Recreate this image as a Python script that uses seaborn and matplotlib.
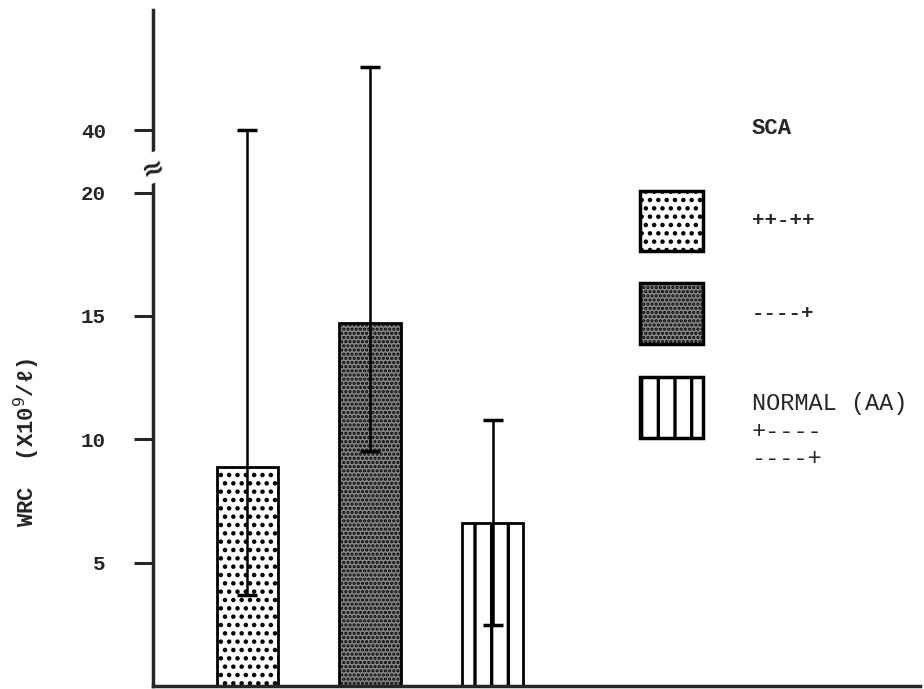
import matplotlib
matplotlib.use("Agg")
import matplotlib.pyplot as plt
from matplotlib.patches import Rectangle
import numpy as np
import pandas as pd
import seaborn as sns

# values (WBC, x10^9/l)
groups = ["++-++", "----+", "NORMAL (AA)"]
means = [8.9, 14.7, 6.6]
err_low = [3.7, 9.55, 2.5]      # lower end of error bar
err_high = [40.0, 60.5, 10.8]   # upper end of error bar
hatches = ["..", "....", "|"]
hatch_lw = [2.0, 1.6, 2.4]
faces = ["white", "#8a8a8a", "white"]
yticks = [5, 10, 15, 20, 40]
legend_labels = ["++-++", "----+", "NORMAL (AA)\n+----\n----+"]

df = pd.DataFrame({"group": groups, "wbc": means})

sns.set_style("white")
plt.rcParams["hatch.linewidth"] = 2.0
mono = ["Liberation Mono", "DejaVu Sans Mono"]

# broken axis above 20: squeeze the upper range
k = 0.126
def fwd(y):
    y = np.asarray(y, dtype=float)
    return np.where(y <= 20, y, 20 + (y - 20) * k)
def inv(v):
    v = np.asarray(v, dtype=float)
    return np.where(v <= 20, v, 20 + (v - 20) / k)

def style_patch(p, h, fc, lw):
    p.set_hatch(h)
    p.set_facecolor(fc)
    if hasattr(p, "set_hatch_linewidth"):
        p.set_hatch_linewidth(lw)

fig = plt.figure(figsize=(9.24, 6.89), dpi=100)
ax = fig.add_axes([0.1656, 0.004, 0.8304, 0.9815])

sns.barplot(data=df, x="group", y="wbc", ax=ax, width=0.5, errorbar=None,
            color="white", edgecolor="black", linewidth=2)
for p, h, fc, lw in zip(ax.patches, hatches, faces, hatch_lw):
    style_patch(p, h, fc, lw)

ax.set_yscale("function", functions=(fwd, inv))
m = np.array(means)
yerr = [m - np.array(err_low), np.array(err_high) - m]
ax.errorbar(np.arange(len(means)), m, yerr=yerr, fmt="none",
            ecolor="black", elinewidth=1.8, capsize=7, capthick=2.5, zorder=5)

ax.set_ylim(0, 78.7)
ax.set_xlim(-0.77, 5.49)
ax.set_yticks(yticks)
ax.set_yticklabels([str(t) for t in yticks], family=mono, fontweight="bold", fontsize=15)
ax.set_xticks([])
ax.set_xlabel("")
ax.tick_params(axis="y", direction="out", length=14, width=2.2, pad=20, left=True)
for s in ["top", "right"]:
    ax.spines[s].set_visible(False)
ax.spines["left"].set_linewidth(2.5)
ax.spines["bottom"].set_linewidth(2.5)

ax.set_ylabel("WRC  (X10$^9$/ℓ)", family=mono, fontweight="bold", fontsize=16)
ax.yaxis.set_label_coords(-0.145, 0.36)

# axis break symbol
ax.text(0, 28, "≈", transform=ax.get_yaxis_transform(), ha="center",
        va="center", fontsize=20, fontweight="bold", rotation=20,
        bbox=dict(facecolor="white", edgecolor="none", pad=0.5))

# legend boxes drawn by hand
ax.text(0.78, 0.825, "SCA", transform=ax.transAxes, family=mono,
        fontweight="bold", fontsize=16, va="center")
box_tops = [0.733, 0.596, 0.457]
for top, h, fc, lw, lab in zip(box_tops, hatches, faces, hatch_lw, legend_labels):
    r = Rectangle((0.635, top - 0.09), 0.082, 0.09, transform=ax.transAxes,
                  edgecolor="black", linewidth=2.5)
    style_patch(r, h, fc, lw)
    ax.add_patch(r)
    if "\n" in lab:
        ax.text(0.78, top - 0.022, lab, transform=ax.transAxes, family=mono,
                fontsize=17, va="top", linespacing=1.25)
    else:
        ax.text(0.78, top - 0.045, lab, transform=ax.transAxes, family=mono,
                fontweight="bold", fontsize=15, va="center")

fig.savefig("out.png", dpi=100)
